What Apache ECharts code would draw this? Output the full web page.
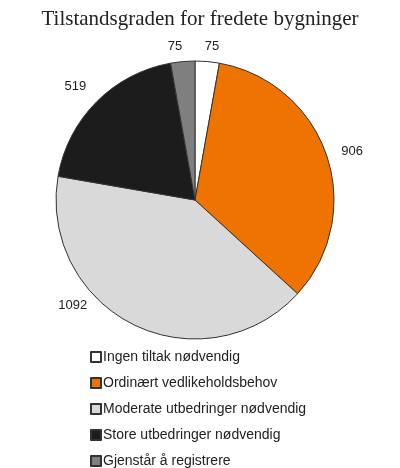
<!DOCTYPE html>
<html>
<head>
<meta charset="utf-8">
<script src="https://cdn.jsdelivr.net/npm/echarts@6/dist/echarts.min.js"></script>
<style>
  html, body { margin: 0; padding: 0; background: #fff; }
  #chart { width: 400px; height: 468px; }
</style>
</head>
<body>
<div id="chart"></div>
<script>
// categories + values, clockwise from 12 o'clock
const categories = ['Ingen tiltak nødvendig', 'Ordinært vedlikeholdsbehov', 'Moderate utbedringer nødvendig', 'Store utbedringer nødvendig', 'Gjenstår å registrere'];
const values = [75, 906, 1092, 519, 75];
const colors = ['#ffffff', '#ef7300', '#d9d9d9', '#1c1c1c', '#7f7f7f'];
// nudges so the value labels sit where the original put them
const labelNudge = [[-12, -9], [0, -2], [-35, -25], [3, -11], [9, -9]];

var chart = echarts.init(document.getElementById('chart'));

const option = {
  backgroundColor: '#fff',
  animation: false,
  title: {
    text: 'Tilstandsgraden for fredete bygninger',
    left: 'center',
    top: 4,
    textStyle: {
      fontFamily: 'Liberation Serif, serif',
      fontSize: 21,
      fontWeight: 'normal',
      color: '#222'
    }
  },
  legend: { // vertical list under the pie
    orient: 'vertical',
    left: 90,
    top: 350,
    height: 118,
    padding: 0,
    itemWidth: 10,
    itemHeight: 10,
    itemGap: 12,
    icon: 'rect',
    textStyle: {
      fontFamily: 'Liberation Sans, Arial, sans-serif',
      fontSize: 14,
      color: '#222',
      padding: [0, 0, 0, -3]
    },
    data: categories
  },
  series: [
    {
      type: 'pie',
      center: [195, 200],
      radius: 139,
      startAngle: 90,
      clockwise: true,
      itemStyle: {
        borderColor: '#333',
        borderWidth: 1
      },
      label: {
        show: true,
        position: 'outside',
        formatter: '{c}',
        fontFamily: 'Liberation Sans, Arial, sans-serif',
        fontSize: 13,
        color: '#222'
      },
      labelLine: {
        show: false,
        length: 6,
        length2: 4
      },
      data: categories.map((name, i) => ({
        name: name,
        value: values[i],
        itemStyle: { color: colors[i] },
        label: { offset: labelNudge[i] }
      }))
    }
  ]
};

chart.setOption(option);
</script>
</body>
</html>
